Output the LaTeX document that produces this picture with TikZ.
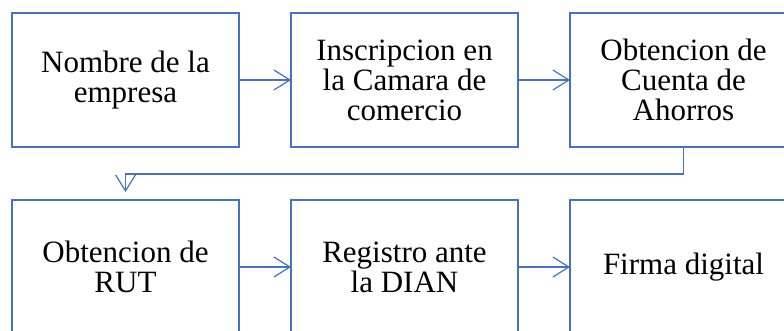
\documentclass[tikz,border=0pt]{standalone}
\usepackage{fontspec}
\setmainfont{Liberation Serif}
\usepackage{xcolor}
\usepackage{tikz}
\usetikzlibrary{positioning, arrows.meta}
\definecolor{wordblue}{RGB}{68, 114, 196}

\begin{document}
\begin{tikzpicture}[
  font=\fontsize{31}{30}\selectfont,
  node distance=52pt,
  procbox/.style={draw=wordblue, line width=2.6pt, align=center,
    minimum width=227pt, minimum height=134pt, inner sep=0pt, outer sep=0pt},
  arrow/.style={-{Straight Barb[length=16pt, width=20pt]}, draw=wordblue,
    line width=1.2pt}
]
  \useasboundingbox (-125.5pt,80pt) rectangle (658.5pt,-251pt);

  \node[procbox] (nombre) at (0,0) {Nombre de la\\empresa};
  \node[procbox, right=of nombre] (camara) {Inscripcion en\\la Camara de\\comercio};
  \node[procbox, right=of camara] (cuenta) {Obtencion de\\Cuenta de\\Ahorros};
  \node[procbox, below=53pt of nombre] (rut) {Obtencion de\\RUT};
  \node[procbox, right=of rut] (dian) {Registro ante\\la DIAN};
  \node[procbox, right=of dian] (firma) {Firma digital};

  \draw[arrow] (nombre) -- (camara);
  \draw[arrow] (camara) -- (cuenta);
  \draw[arrow] (cuenta.south) -- ++(0,-27pt) -| ([yshift=8pt]rut.north);
  \draw[arrow] (rut) -- (dian);
  \draw[arrow] (dian) -- (firma);
\end{tikzpicture}
\end{document}
